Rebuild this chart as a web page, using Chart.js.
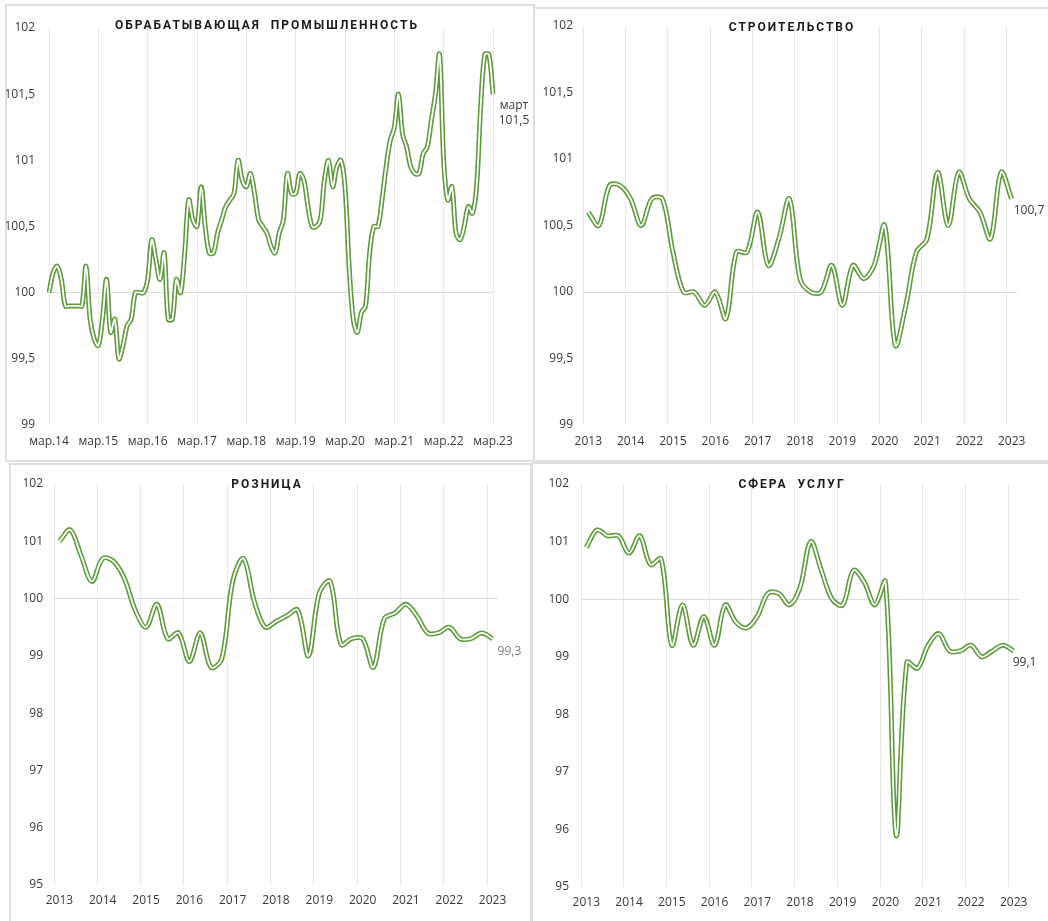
<!DOCTYPE html>
<html><head><meta charset="utf-8">
<script src="https://cdn.jsdelivr.net/npm/chart.js@4.4.0/dist/chart.umd.min.js"></script>
<style>
html,body{margin:0;padding:0;background:#fff;width:1048px;height:921px;overflow:hidden;}
.panel{position:absolute;border:2px solid #e0e0e0;box-sizing:border-box;background:#fff;}
canvas{position:absolute;}
.title{position:absolute;font-family:Roboto,'Noto Sans',sans-serif;font-weight:700;font-size:12px;letter-spacing:2px;color:#1a1a1a;white-space:pre;transform:translate(-50%,-50%);}
</style></head><body>
<div class="panel" style="left:5px;top:4px;width:530px;height:458px"></div>
<div class="panel" style="left:533px;top:7px;width:520px;height:455px"></div>
<div class="panel" style="left:9px;top:463px;width:523px;height:470px"></div>
<div class="panel" style="left:531px;top:462px;width:520px;height:470px"></div>
<canvas id="c1" width="527" height="456" style="left:6px;top:5px"></canvas>
<canvas id="c2" width="512" height="452" style="left:534px;top:8px"></canvas>
<canvas id="c3" width="519" height="455" style="left:11px;top:465px"></canvas>
<canvas id="c4" width="513" height="456" style="left:533px;top:464px"></canvas>
<div class="title" style="left:267px;top:25px">ОБРАБАТЫВАЮЩАЯ  ПРОМЫШЛЕННОСТЬ</div>
<div class="title" style="left:792px;top:27px">СТРОИТЕЛЬСТВО</div>
<div class="title" style="left:267px;top:484px">РОЗНИЦА</div>
<div class="title" style="left:792px;top:484px">СФЕРА  УСЛУГ</div>
<script>
// ---- categories ----
const monthNames = ['янв','фев','мар','апр','май','июн','июл','авг','сен','окт','ноя','дек'];
const manufLabels = [];
for (let k = 0; k < 109; k++) {
  const m = (2 + k) % 12, y = 14 + Math.floor((2 + k) / 12);
  manufLabels.push(monthNames[m] + '.' + y);
}
const quarterLabels = [];
for (let k = 0; k < 41; k++) {
  quarterLabels.push(String(2013 + Math.floor(k / 4)) + ' Q' + (k % 4 + 1));
}

// ---- series values ----
const manufacturing = [
  100.0,100.15,100.2,100.1,99.9,99.9,99.9,99.9,99.9,100.2,
  99.8,99.65,99.6,99.8,100.1,99.7,99.8,99.5,99.6,99.75,
  99.8,100.0,100.0,100.0,100.1,100.4,100.25,100.1,100.3,99.8,
  99.8,100.1,100.0,100.3,100.7,100.55,100.5,100.8,100.5,100.3,
  100.3,100.45,100.55,100.65,100.7,100.75,101.0,100.85,100.8,100.9,
  100.75,100.55,100.5,100.45,100.35,100.3,100.45,100.55,100.9,100.75,
  100.75,100.9,100.85,100.65,100.5,100.5,100.55,100.85,101.0,100.8,
  100.95,101.0,100.8,100.2,99.8,99.7,99.85,99.9,100.3,100.5,
  100.5,100.7,100.95,101.15,101.25,101.5,101.2,101.1,100.95,100.9,
  100.9,101.05,101.1,101.3,101.5,101.8,101.0,100.7,100.8,100.45,
  100.4,100.5,100.65,100.6,100.8,101.4,101.8,101.8,101.5
];
const construction = [
  100.6,100.5,100.8,100.8,100.7,100.5,100.7,100.7,100.3,100.0,
  100.0,99.9,100.0,99.8,100.3,100.3,100.6,100.2,100.4,100.7,
  100.1,100.0,100.0,100.2,99.9,100.2,100.1,100.2,100.5,99.6,
  99.9,100.3,100.4,100.9,100.5,100.9,100.7,100.6,100.4,100.9,
  100.7
];
const retail = [
  101.0,101.2,100.75,100.3,100.7,100.65,100.35,99.8,99.5,99.9,
  99.3,99.4,98.9,99.4,98.8,98.95,100.3,100.7,99.95,99.5,
  99.6,99.7,99.8,99.0,100.1,100.3,99.2,99.3,99.3,98.8,
  99.65,99.75,99.9,99.7,99.4,99.4,99.5,99.3,99.3,99.4,
  99.3
];
const services = [
  100.9,101.2,101.1,101.1,100.8,101.1,100.6,100.7,99.2,99.9,
  99.2,99.7,99.2,99.9,99.6,99.5,99.7,100.1,100.1,99.9,
  100.2,101.0,100.5,100.0,99.9,100.5,100.3,99.9,100.3,95.9,
  98.9,98.8,99.2,99.4,99.1,99.1,99.2,99.0,99.1,99.2,
  99.1
];

// ---- axis ticks ----
const ticksSmall = { min: 99, max: 102, step: 0.5 };
const ticksLarge = { min: 95, max: 102, step: 1 };
const endLabels = {
  manufacturing: ['март', '101,5'],
  construction: ['100,7'],
  retail: ['99,3'],
  services: ['99,1']
};

const GREEN = '#5f9b3e';
const FONT = "'Open Sans', 'Noto Sans', sans-serif";

const endLabelPlugin = {
  id: 'endLabel',
  afterDatasetsDraw(chart, args, opts) {
    const meta = chart.getDatasetMeta(0);
    const pt = meta.data[meta.data.length - 1];
    const ctx = chart.ctx;
    ctx.save();
    ctx.font = '12px ' + FONT;
    ctx.fillStyle = opts.color;
    ctx.textAlign = opts.align;
    ctx.textBaseline = 'middle';
    opts.lines.forEach((t, i) => ctx.fillText(t, pt.x + opts.dx, pt.y + opts.dy + i * opts.lh));
    ctx.restore();
  }
};

function makeChart(id, labels, values, yr, every, offset, geo, endOpts) {
  const fmt = v => String(v).replace('.', ',');
  new Chart(document.getElementById(id), {
    type: 'line',
    data: {
      labels: labels,
      datasets: [
        { data: values, borderColor: '#ffffff', borderWidth: 1.8, pointRadius: 0, tension: 0.35, fill: false, order: 0 },
        { data: values, borderColor: GREEN, borderWidth: 5, pointRadius: 0, tension: 0.35, fill: false, order: 1 }
      ]
    },
    plugins: [endLabelPlugin],
    options: {
      responsive: false,
      animation: false,
      devicePixelRatio: 1,
      events: [],
      layout: { padding: { left: 0, top: geo.top, right: geo.right, bottom: 0 } },
      plugins: {
        legend: { display: false },
        tooltip: { enabled: false },
        endLabel: endOpts
      },
      scales: {
        x: {
          type: 'category',
          offset: offset,
          border: { display: false },
          grid: {
            offset: offset,
            drawTicks: false,
            lineWidth: 1,
            color: c => (c.index % every === 0 && c.index < labels.length) ? '#e9e9e9' : 'rgba(0,0,0,0)'
          },
          ticks: {
            autoSkip: false,
            maxRotation: 0,
            padding: geo.xpad,
            color: '#3a3a3a',
            font: { family: FONT, size: 12 },
            callback: function (v, i) {
              if (i % every !== 0) return '';
              const l = this.getLabelForValue(v);
              return offset ? l.slice(0, 4) : l;
            }
          },
          afterFit: s => { s.height = geo.xh; s.paddingLeft = 0; s.paddingRight = 0; }
        },
        y: {
          min: yr.min, max: yr.max,
          border: { display: false },
          grid: {
            drawTicks: false,
            color: c => (c.tick && c.tick.value === 100) ? '#dcdcdc' : 'rgba(0,0,0,0)'
          },
          ticks: {
            stepSize: yr.step,
            padding: geo.ypad,
            color: '#3a3a3a',
            font: { family: FONT, size: 12 },
            callback: v => fmt(v)
          },
          afterFit: s => { s.width = geo.yw; s.paddingTop = 0; s.paddingBottom = 0; }
        }
      }
    }
  });
}

makeChart('c1', manufLabels, manufacturing, ticksSmall, 12, false,
  { top: 23, right: 40, xh: 36, yw: 43, xpad: 9, ypad: 14 },
  { lines: endLabels.manufacturing, dx: 21, dy: 11, lh: 15, color: '#3a3a3a', align: 'center' });
makeChart('c2', quarterLabels, construction, ticksSmall, 4, true,
  { top: 18, right: 29, xh: 35, yw: 49, xpad: 9, ypad: 10 },
  { lines: endLabels.construction, dx: 2, dy: 12, lh: 15, color: '#3a3a3a', align: 'left' });
makeChart('c3', quarterLabels, retail, ticksLarge, 4, true,
  { top: 19, right: 32, xh: 35, yw: 43, xpad: 8, ypad: 11 },
  { lines: endLabels.retail, dx: 5, dy: 13, lh: 15, color: '#808080', align: 'left' });
makeChart('c4', quarterLabels, services, ticksLarge, 4, true,
  { top: 20, right: 27, xh: 33, yw: 48, xpad: 8, ypad: 12 },
  { lines: endLabels.services, dx: -1, dy: 12, lh: 15, color: '#333333', align: 'left' });
</script>
</body></html>
